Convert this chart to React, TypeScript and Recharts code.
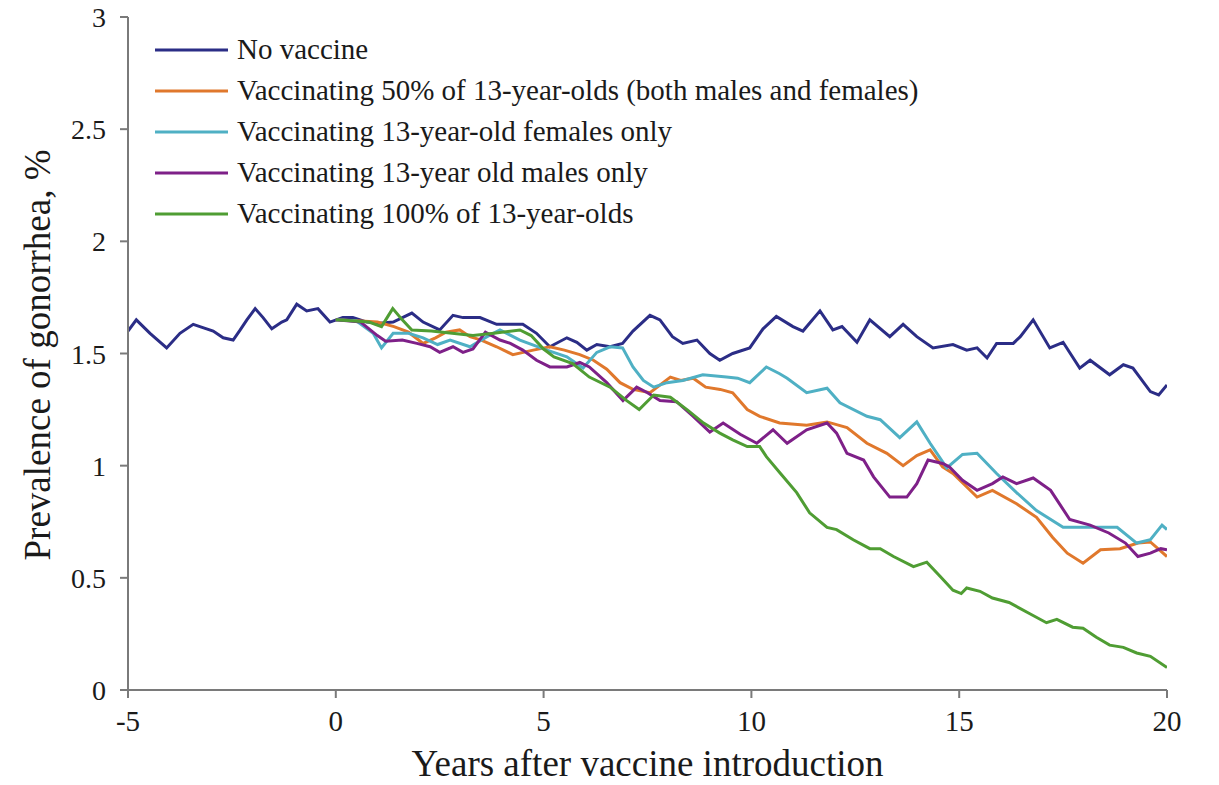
import React from "react";
import { LineChart, Line, XAxis, YAxis, Label } from "recharts";

// years after vaccine introduction / prevalence (%) per scenario
const noVaccineYears = [
  -5, -4.8, -4.47, -4.07, -3.75, -3.43, -3.27, -2.95, -2.71, -2.47, -2.3, -2.14, -1.94, -1.75, -1.54, -1.3,
  -1.18, -0.94, -0.7, -0.43, -0.14, 0.17, 0.41, 0.75, 1.06, 1.38, 1.83, 2.1, 2.5, 2.82, 3.06, 3.47, 3.87, 4.5,
  4.83, 5.15, 5.56, 5.8, 6.04, 6.28, 6.6, 6.9, 7.15, 7.56, 7.8, 8.1, 8.35, 8.69, 9.0, 9.24, 9.55, 9.96, 10.28,
  10.6, 11.0, 11.24, 11.65, 11.96, 12.18, 12.54, 12.85, 13.33, 13.65, 13.98, 14.37, 14.85, 15.18, 15.43,
  15.67, 15.9, 16.3, 16.47, 16.78, 17.18, 17.5, 17.9, 18.15, 18.62, 18.95, 19.18, 19.6, 19.8, 20,
];
const noVaccineValues = [
  1.6, 1.65, 1.59, 1.525, 1.59, 1.63, 1.62, 1.6, 1.57, 1.56, 1.605, 1.65, 1.7, 1.66, 1.61, 1.64, 1.65, 1.72,
  1.69, 1.7, 1.64, 1.66, 1.66, 1.64, 1.635, 1.64, 1.68, 1.64, 1.605, 1.67, 1.66, 1.66, 1.63, 1.63, 1.59, 1.53,
  1.57, 1.55, 1.515, 1.54, 1.53, 1.545, 1.6, 1.67, 1.65, 1.575, 1.545, 1.56, 1.5, 1.47, 1.5, 1.525, 1.61, 1.665,
  1.62, 1.6, 1.69, 1.605, 1.62, 1.55, 1.65, 1.575, 1.63, 1.575, 1.525, 1.54, 1.515, 1.525, 1.48, 1.545, 1.545,
  1.575, 1.65, 1.525, 1.55, 1.435, 1.47, 1.405, 1.45, 1.435, 1.33, 1.315, 1.36,
];

const halfYears = [
  0, 0.6, 1.0, 1.4, 1.75, 2.1, 2.4, 2.65, 2.98, 3.23, 3.5, 3.87, 4.26, 4.75, 5.15, 5.5, 5.87, 6.2, 6.52, 6.84,
  7.15, 7.56, 8.05, 8.3, 8.6, 8.9, 9.25, 9.55, 9.9, 10.2, 10.68, 11.33, 11.82, 12.3, 12.78, 13.26, 13.65,
  13.98, 14.3, 14.6, 14.85, 15.43, 15.8, 16.38, 16.86, 17.25, 17.6, 17.98, 18.4, 18.87, 19.3, 19.6, 20,
];
const halfValues = [
  1.65, 1.645, 1.64, 1.62, 1.595, 1.545, 1.57, 1.595, 1.605, 1.575, 1.56, 1.53, 1.495, 1.515, 1.53, 1.515,
  1.495, 1.47, 1.43, 1.37, 1.34, 1.325, 1.395, 1.38, 1.39, 1.35, 1.34, 1.325, 1.25, 1.22, 1.19, 1.18, 1.195,
  1.17, 1.1, 1.055, 1.0, 1.045, 1.07, 0.995, 0.965, 0.86, 0.89, 0.83, 0.77, 0.68, 0.61, 0.565, 0.625, 0.63,
  0.655, 0.66, 0.595,
];

const femalesYears = [
  0, 0.5, 0.9, 1.1, 1.38, 1.75, 2.1, 2.45, 2.75, 3.23, 3.64, 3.95, 4.43, 5.08, 5.56, 5.95, 6.28, 6.6, 6.9,
  7.15, 7.4, 7.65, 7.97, 8.35, 8.83, 9.4, 9.67, 9.96, 10.36, 10.68, 10.86, 11.33, 11.82, 12.13, 12.78, 13.1,
  13.57, 13.98, 14.3, 14.7, 15.08, 15.43, 15.9, 16.38, 16.86, 17.5, 18.15, 18.8, 19.27, 19.6, 19.88, 20,
];
const femalesValues = [
  1.65, 1.645, 1.59, 1.525, 1.59, 1.59, 1.57, 1.54, 1.56, 1.53, 1.575, 1.605, 1.56, 1.515, 1.485, 1.435,
  1.505, 1.53, 1.525, 1.44, 1.38, 1.35, 1.37, 1.38, 1.405, 1.395, 1.39, 1.37, 1.44, 1.41, 1.39, 1.325, 1.345,
  1.28, 1.22, 1.205, 1.125, 1.195, 1.1, 0.99, 1.05, 1.055, 0.965, 0.88, 0.8, 0.725, 0.725, 0.725, 0.655, 0.67,
  0.735, 0.715,
];

const malesYears = [
  0, 0.6, 1.0, 1.2, 1.6, 1.95, 2.27, 2.5, 2.82, 3.06, 3.3, 3.6, 3.95, 4.2, 4.5, 4.83, 5.15, 5.56, 5.87, 6.1,
  6.52, 6.91, 7.24, 7.5, 7.8, 8.2, 8.6, 9.0, 9.32, 9.73, 10.13, 10.52, 10.86, 11.33, 11.82, 12.05, 12.3, 12.7,
  12.94, 13.33, 13.74, 13.98, 14.25, 14.6, 14.76, 15.08, 15.43, 15.8, 16.05, 16.38, 16.78, 17.2, 17.66, 18.15,
  18.6, 19.0, 19.3, 19.6, 19.85, 20,
];
const malesValues = [
  1.65, 1.64, 1.58, 1.555, 1.56, 1.545, 1.53, 1.505, 1.53, 1.505, 1.52, 1.595, 1.56, 1.545, 1.515, 1.47,
  1.44, 1.44, 1.46, 1.44, 1.37, 1.29, 1.35, 1.325, 1.29, 1.285, 1.22, 1.15, 1.19, 1.14, 1.1, 1.16, 1.1, 1.16,
  1.19, 1.145, 1.055, 1.025, 0.95, 0.86, 0.86, 0.92, 1.025, 1.01, 0.995, 0.935, 0.89, 0.92, 0.95, 0.92, 0.945,
  0.89, 0.76, 0.735, 0.7, 0.655, 0.595, 0.61, 0.63, 0.625,
];

const fullYears = [
  0, 0.8, 1.1, 1.37, 1.6, 1.83, 2.3, 2.8, 3.3, 3.8, 4.43, 4.7, 5.0, 5.25, 5.7, 6.1, 6.6, 7.0, 7.3, 7.65, 8.05,
  8.45, 8.85, 9.24, 9.55, 9.9, 10.2, 10.36, 10.7, 11.09, 11.4, 11.82, 12.05, 12.45, 12.85, 13.1, 13.42, 13.9,
  14.22, 14.55, 14.85, 15.05, 15.18, 15.5, 15.8, 16.2, 16.7, 17.1, 17.35, 17.73, 17.98, 18.3, 18.62, 18.95,
  19.27, 19.6, 20,
];
const fullValues = [
  1.65, 1.64, 1.62, 1.7, 1.65, 1.605, 1.6, 1.59, 1.58, 1.59, 1.605, 1.58, 1.52, 1.485, 1.455, 1.395, 1.35,
  1.29, 1.25, 1.315, 1.305, 1.25, 1.19, 1.145, 1.115, 1.085, 1.085, 1.04, 0.965, 0.88, 0.79, 0.725, 0.715,
  0.67, 0.63, 0.63, 0.595, 0.55, 0.57, 0.505, 0.445, 0.43, 0.455, 0.44, 0.41, 0.39, 0.34, 0.3, 0.315, 0.28,
  0.275, 0.235, 0.2, 0.19, 0.165, 0.15, 0.1,
];

const xTicks = [-5, 0, 5, 10, 15, 20];
const yTicks = [0, 0.5, 1, 1.5, 2, 2.5, 3];

const toPoints = (years: number[], values: number[]) =>
  years.map((t, i) => ({ t, v: values[i] }));

const series = [
  { name: "No vaccine", color: "#2b2d86", data: toPoints(noVaccineYears, noVaccineValues) },
  {
    name: "Vaccinating 50% of 13-year-olds (both males and females)",
    color: "#e0782c",
    data: toPoints(halfYears, halfValues),
  },
  { name: "Vaccinating 13-year-old females only", color: "#4fb0c4", data: toPoints(femalesYears, femalesValues) },
  { name: "Vaccinating 13-year old males only", color: "#7e2088", data: toPoints(malesYears, malesValues) },
  { name: "Vaccinating 100% of 13-year-olds", color: "#4f9d33", data: toPoints(fullYears, fullValues) },
];

const FONT = "Liberation Serif";
const AXIS = "#7a7a7a";
const INK = "#1a1a1a";

const XTick = (props: any) => {
  const { x, y, payload } = props;
  return (
    <text x={x} y={y + 27} textAnchor="middle" style={{ fontFamily: FONT, fontSize: 29 }} fill={INK}>
      {payload.value}
    </text>
  );
};

const YTick = (props: any) => {
  const { x, y, payload } = props;
  return (
    <text x={x} y={y + 10} textAnchor="end" style={{ fontFamily: FONT, fontSize: 28 }} fill={INK}>
      {payload.value}
    </text>
  );
};

const LegendBox = () => (
  <div
    style={{
      position: "absolute",
      left: 147,
      top: 29,
      fontFamily: FONT,
      fontSize: 29,
      color: INK,
      lineHeight: 1,
    }}
  >
    {series.map((s) => (
      <div key={s.name} style={{ display: "flex", alignItems: "center", height: 41, whiteSpace: "nowrap" }}>
        <svg width={73} height={6} style={{ marginRight: 9 }}>
          <line x1={0} y1={3} x2={73} y2={3} stroke={s.color} strokeWidth={3} />
        </svg>
        <span>{s.name}</span>
      </div>
    ))}
  </div>
);

export default function App() {
  return (
    <div style={{ position: "relative", width: 1203, height: 785, marginTop: -8 }}>
      <LineChart width={1203} height={785} margin={{ top: 17, right: 44, left: 0, bottom: 0 }}>
        <XAxis
          dataKey="t"
          type="number"
          domain={[-5, 20]}
          ticks={xTicks}
          allowDataOverflow
          stroke={AXIS}
          strokeWidth={2}
          tickSize={8}
          tickMargin={6}
          height={95}
          tick={<XTick />}
        >
          <Label
            content={() => (
              <text x={639.5} y={776} textAnchor="middle" style={{ fontFamily: FONT, fontSize: 37 }} fill={INK}>
                Years after vaccine introduction
              </text>
            )}
          />
        </XAxis>
        <YAxis
          type="number"
          domain={[0, 3]}
          ticks={yTicks}
          allowDataOverflow
          width={120}
          stroke={AXIS}
          strokeWidth={2}
          tickSize={8}
          tickMargin={14}
          tick={<YTick />}
        >
          <Label
            content={() => (
              <text
                x={42}
                y={355}
                transform="rotate(-90 42 355)"
                textAnchor="middle"
                style={{ fontFamily: FONT, fontSize: 37 }}
                fill={INK}
              >
                Prevalence of gonorrhea, %
              </text>
            )}
          />
        </YAxis>
        {series.map((s) => (
          <Line
            key={s.name}
            data={s.data}
            dataKey="v"
            name={s.name}
            type="linear"
            stroke={s.color}
            strokeWidth={3}
            dot={false}
            activeDot={false}
            isAnimationActive={false}
          />
        ))}
      </LineChart>
      <LegendBox />
    </div>
  );
}
